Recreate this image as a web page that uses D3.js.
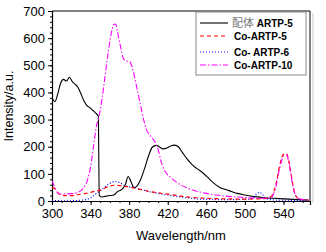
<!DOCTYPE html>
<html>
<head>
<meta charset="utf-8">
<script src="https://cdn.jsdelivr.net/npm/d3@7"></script>
<style>
  body { margin: 0; background: #fff; }
  svg { font-family: "Liberation Sans", Arial, sans-serif; }
</style>
</head>
<body>
<svg id="chart" width="326" height="252"></svg>
<script>
const svg = d3.select("#chart");

// spectra: [wavelength nm, intensity a.u.]
const ligand = [[300,380],[303,366],[306,395],[309,435],[312,448],[315,442],[318,456],[321,440],[324,430],[327,418],[330,395],[333,370],[336,352],[339,345],[342,335],[345,325],[348,312],[349,20],[352,15],[356,18],[360,20],[364,22],[368,35],[372,42],[376,60],[379,90],[382,70],[385,50],[388,55],[392,80],[396,120],[400,165],[404,198],[408,205],[412,198],[415,192],[419,195],[423,203],[427,206],[431,200],[435,180],[440,155],[445,135],[450,120],[456,105],[462,85],[468,65],[474,50],[480,42],[486,35],[492,28],[500,22],[510,16],[520,12],[530,10],[540,8],[550,6],[566,3]];
const coA5 = [[300,50],[303,45],[306,30],[309,22],[315,20],[320,20],[325,22],[330,25],[335,28],[340,32],[345,36],[350,40],[355,48],[360,55],[365,58],[370,57],[375,54],[380,52],[385,48],[390,44],[395,40],[400,36],[410,30],[420,25],[430,20],[440,15],[450,12],[460,10],[480,8],[500,7],[515,8],[522,10],[528,20],[532,60],[536,130],[540,172],[543,175],[546,140],[549,75],[552,25],[556,8],[566,3]];
const coA6 = [[300,2],[310,1],[320,1],[330,3],[335,5],[340,12],[345,25],[350,38],[355,52],[360,65],[365,72],[370,68],[375,58],[380,52],[385,50],[390,45],[395,40],[400,35],[410,28],[420,22],[430,16],[440,12],[450,8],[460,6],[480,5],[500,6],[508,10],[512,25],[515,32],[518,25],[522,8],[530,4],[540,3],[566,2]];
const coA10 = [[300,74],[303,50],[306,30],[310,25],[315,26],[320,27],[325,30],[330,38],[334,55],[337,80],[340,125],[343,200],[346,275],[349,315],[352,380],[355,460],[358,540],[361,610],[364,650],[366,652],[368,620],[371,570],[374,525],[377,515],[380,515],[383,495],[386,450],[389,400],[392,350],[395,300],[398,262],[402,240],[406,222],[410,190],[414,135],[418,105],[422,90],[426,78],[432,62],[440,48],[450,36],[460,28],[470,22],[480,18],[490,15],[500,13],[510,11],[520,10],[527,12],[532,50],[536,120],[540,165],[543,170],[546,135],[549,70],[552,25],[556,8],[566,4]];

const seriesNames = ["配体 ARTP-5", "Co-ARTP-5", "Co- ARTP-6", "Co-ARTP-10"];
const xTicks = [300, 340, 380, 420, 460, 500, 540];
const yTicks = [0, 100, 200, 300, 400, 500, 600, 700];

const series = [
  { name: seriesNames[0], data: ligand, color: "#000000", dash: null, w: 1.1 },
  { name: seriesNames[1], data: coA5, color: "#ff0000", dash: "4,3", w: 1.2 },
  { name: seriesNames[2], data: coA6, color: "#0000ff", dash: "1,2", w: 1.2 },
  { name: seriesNames[3], data: coA10, color: "#ff00ff", dash: "6,2,1.5,2", w: 1.1 }
];

const mLeft = 52, mRight = 310, mTop = 11, mBottom = 201;
const x = d3.scaleLinear().domain([300, 567.5]).range([mLeft, mRight]);
const y = d3.scaleLinear().domain([0, 700]).range([mBottom, mTop]);

// axes
svg.append("g").attr("transform", `translate(0,${mBottom})`)
  .call(d3.axisBottom(x).tickValues(d3.range(300, 567, 10)).tickSize(2).tickFormat(""))
  .select(".domain").remove();
svg.append("g").attr("transform", `translate(0,${mBottom})`)
  .call(d3.axisBottom(x).tickValues(xTicks).tickSize(4).tickPadding(4))
  .call(g => g.select(".domain").attr("stroke-width", 1.2))
  .selectAll("text").attr("font-size", 13).attr("fill", "#000");

svg.append("g").attr("transform", `translate(${mLeft},0)`)
  .call(d3.axisLeft(y).tickValues(d3.range(0, 701, 20)).tickSize(2).tickFormat(""))
  .select(".domain").remove();
svg.append("g").attr("transform", `translate(${mLeft},0)`)
  .call(d3.axisLeft(y).tickValues(yTicks).tickSize(4).tickPadding(3))
  .call(g => g.select(".domain").attr("stroke-width", 1.2))
  .selectAll("text").attr("font-size", 13).attr("fill", "#000");

// top and right frame
svg.append("line").attr("x1", mLeft).attr("x2", mRight).attr("y1", mTop).attr("y2", mTop)
  .attr("stroke", "#000").attr("stroke-width", 1);
svg.append("line").attr("x1", mRight).attr("x2", mRight).attr("y1", mTop).attr("y2", mBottom)
  .attr("stroke", "#000").attr("stroke-width", 1);
svg.append("line").attr("x1", mRight + 3).attr("x2", mRight + 3).attr("y1", mTop + 2).attr("y2", mBottom + 2)
  .attr("stroke", "#c8c8c8").attr("stroke-width", 1);

// curves
const line = d3.line().x(d => x(d[0])).y(d => y(d[1])).curve(d3.curveMonotoneX);
const plot = svg.append("g");
plot.append("clipPath").attr("id", "clip").append("rect")
  .attr("x", mLeft).attr("y", mTop).attr("width", mRight - mLeft).attr("height", mBottom - mTop);
[series[0], series[2], series[1], series[3]].forEach(s => {
  plot.append("path").datum(s.data)
    .attr("clip-path", "url(#clip)")
    .attr("d", line).attr("fill", "none")
    .attr("stroke", s.color).attr("stroke-width", s.w)
    .attr("stroke-dasharray", s.dash);
});

// axis titles
svg.append("text").attr("x", (mLeft + mRight) / 2).attr("y", 240)
  .attr("text-anchor", "middle").attr("font-size", 13).text("Wavelength/nm");
svg.append("text").attr("transform", `translate(13,${(mTop + mBottom) / 2}) rotate(-90)`)
  .attr("text-anchor", "middle").attr("font-size", 12.5).text("Intensity/a.u.");

// legend
const lg = svg.append("g");
lg.append("rect").attr("x", 196).attr("y", 12).attr("width", 110).attr("height", 63)
  .attr("fill", "#fff").attr("stroke", "#888").attr("stroke-width", 1);
const rowY = [23, 36, 52, 65];
series.forEach((s, i) => {
  lg.append("line").attr("x1", 200).attr("x2", 228).attr("y1", rowY[i]).attr("y2", rowY[i])
    .attr("stroke", s.color).attr("stroke-width", s.w).attr("stroke-dasharray", s.dash);
  const t = lg.append("text").attr("x", i === 0 ? 232 : 234).attr("y", rowY[i] + 4)
    .attr("font-size", 10).attr("font-weight", "bold");
  if (i === 0) {
    t.append("tspan").attr("font-family", "Noto Sans CJK SC").attr("font-weight", "normal")
      .attr("fill", "#777").attr("font-size", 11).text(s.name.split(" ")[0]);
    t.append("tspan").text(" " + s.name.split(" ")[1]);
  } else {
    t.text(s.name);
  }
});
</script>
</body>
</html>
